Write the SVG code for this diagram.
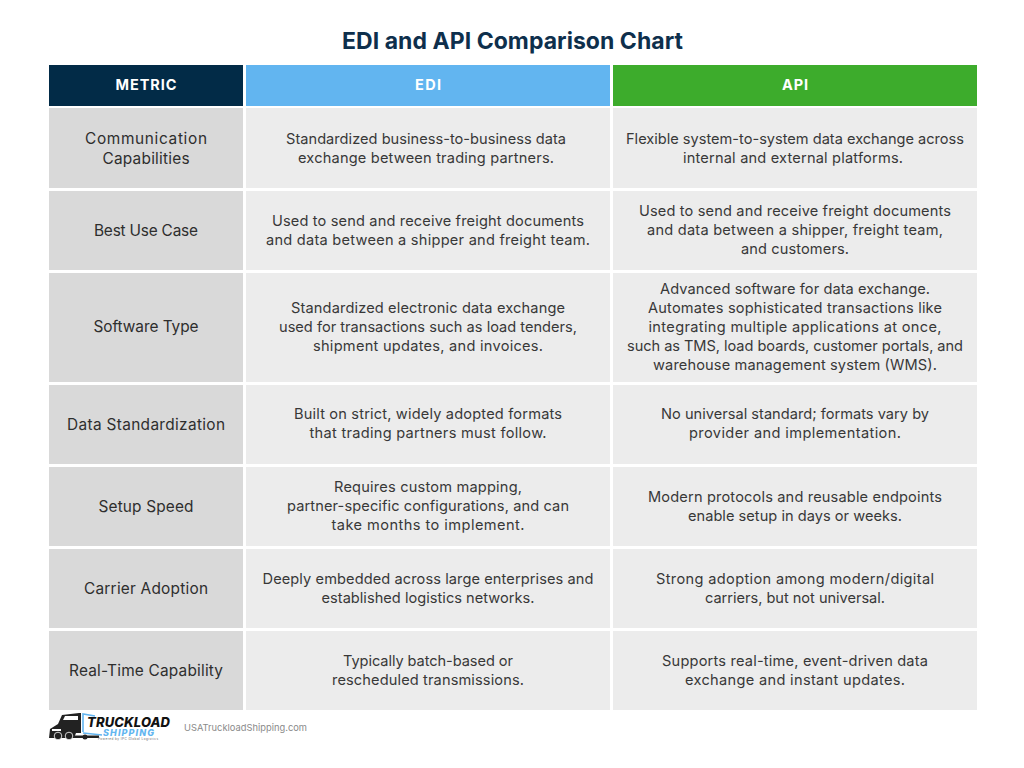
<svg xmlns="http://www.w3.org/2000/svg" width="1024" height="768" viewBox="0 0 1024 768">
<style>
text{font-family:Inter,"Liberation Sans",sans-serif;text-anchor:middle;fill:#383838}
.t{font-size:14.6px}
.k{font-size:15.4px;fill:#2e2e2e}
.m{fill:#d9d9d9}.c{fill:#ececec}
.h{font-size:14.5px;font-weight:700;fill:#fff}
</style>
<rect width="1024" height="768" fill="#fff"/>
<text x="512.500" y="49" font-size="23" font-weight="700" textLength="341" style="fill:#0e2f4c">EDI and API Comparison Chart</text>
<g id="head-metric"><rect x="49" y="65" width="194" height="41" fill="#022b47"/><text class="h" x="146" y="90" textLength="61">METRIC</text></g>
<g id="head-edi"><rect x="246" y="65" width="364" height="41" fill="#62b5f0"/><text class="h" x="428" y="90" textLength="26">EDI</text></g>
<g id="head-api"><rect x="613" y="65" width="364" height="41" fill="#3dac2c"/><text class="h" x="795" y="90" textLength="26">API</text></g>

<g id="row1"><rect class="m" x="49" y="108" width="194" height="80"/><rect class="c" x="246" y="108" width="364" height="80"/><rect class="c" x="613" y="108" width="364" height="80"/>
<text class="k" x="146" y="144" textLength="122">Communication</text><text class="k" x="146" y="163.500" textLength="87">Capabilities</text>
<text class="t" x="426" y="144" textLength="280">Standardized business-to-business data</text><text class="t" x="426" y="163" textLength="256">exchange between trading partners.</text>
<text class="t" x="795" y="144" textLength="338">Flexible system-to-system data exchange across</text><text class="t" x="793" y="163" textLength="220">internal and external platforms.</text></g>

<g id="row2"><rect class="m" x="49" y="191" width="194" height="79"/><rect class="c" x="246" y="191" width="364" height="79"/><rect class="c" x="613" y="191" width="364" height="79"/>
<text class="k" x="146" y="236" textLength="104">Best Use Case</text>
<text class="t" x="428" y="226" textLength="312">Used to send and receive freight documents</text><text class="t" x="428" y="245" textLength="324">and data between a shipper and freight team.</text>
<text class="t" x="795" y="216" textLength="312">Used to send and receive freight documents</text><text class="t" x="795" y="235" textLength="296">and data between a shipper, freight team,</text><text class="t" x="795" y="254" textLength="108">and customers.</text></g>

<g id="row3"><rect class="m" x="49" y="273" width="194" height="109"/><rect class="c" x="246" y="273" width="364" height="109"/><rect class="c" x="613" y="273" width="364" height="109"/>
<text class="k" x="146" y="332" textLength="105">Software Type</text>
<text class="t" x="428" y="313" textLength="274">Standardized electronic data exchange</text><text class="t" x="428" y="332" textLength="298">used for transactions such as load tenders,</text><text class="t" x="428" y="351" textLength="230">shipment updates, and invoices.</text>
<text class="t" x="795" y="294" textLength="270">Advanced software for data exchange.</text><text class="t" x="795" y="313" textLength="294">Automates sophisticated transactions like</text><text class="t" x="795" y="332" textLength="293">integrating multiple applications at once,</text><text class="t" x="795" y="351" textLength="336">such as TMS, load boards, customer portals, and</text><text class="t" x="795" y="370" textLength="284">warehouse management system (WMS).</text></g>

<g id="row4"><rect class="m" x="49" y="385" width="194" height="79"/><rect class="c" x="246" y="385" width="364" height="79"/><rect class="c" x="613" y="385" width="364" height="79"/>
<text class="k" x="146" y="429.500" textLength="158">Data Standardization</text>
<text class="t" x="428" y="419" textLength="268">Built on strict, widely adopted formats</text><text class="t" x="428" y="438" textLength="237">that trading partners must follow.</text>
<text class="t" x="795" y="419" textLength="268">No universal standard; formats vary by</text><text class="t" x="795" y="438" textLength="212">provider and implementation.</text></g>

<g id="row5"><rect class="m" x="49" y="467" width="194" height="79"/><rect class="c" x="246" y="467" width="364" height="79"/><rect class="c" x="613" y="467" width="364" height="79"/>
<text class="k" x="146" y="511.500" textLength="95">Setup Speed</text>
<text class="t" x="428" y="492" textLength="188">Requires custom mapping,</text><text class="t" x="428" y="511" textLength="282">partner-specific configurations, and can</text><text class="t" x="428" y="530" textLength="193">take months to implement.</text>
<text class="t" x="795" y="502" textLength="294">Modern protocols and reusable endpoints</text><text class="t" x="795" y="521" textLength="214">enable setup in days or weeks.</text></g>

<g id="row6"><rect class="m" x="49" y="549" width="194" height="79"/><rect class="c" x="246" y="549" width="364" height="79"/><rect class="c" x="613" y="549" width="364" height="79"/>
<text class="k" x="146" y="594" textLength="124">Carrier Adoption</text>
<text class="t" x="428" y="584" textLength="331">Deeply embedded across large enterprises and</text><text class="t" x="428" y="603" textLength="213">established logistics networks.</text>
<text class="t" x="795" y="584" textLength="278">Strong adoption among modern/digital</text><text class="t" x="795" y="603" textLength="180">carriers, but not universal.</text></g>

<g id="row7"><rect class="m" x="49" y="631" width="194" height="79"/><rect class="c" x="246" y="631" width="364" height="79"/><rect class="c" x="613" y="631" width="364" height="79"/>
<text class="k" x="146" y="676" textLength="154">Real-Time Capability</text>
<text class="t" x="428" y="666" textLength="170">Typically batch-based or</text><text class="t" x="428" y="685" textLength="192">rescheduled transmissions.</text>
<text class="t" x="795" y="666" textLength="266">Supports real-time, event-driven data</text><text class="t" x="795" y="685" textLength="220">exchange and instant updates.</text></g>

<g id="logo">
<path d="M83 732V714L95 716M83 733L102 735" fill="none" stroke="#62b5f0" stroke-width="1.6"/>
<path d="M58 724L62 715L79 713H81V733H76L74 738H49L50 729Z" fill="#222"/>
<path d="M65 716H78V720H63ZM52 729H61V731H52Z" fill="#fff"/>
<path d="M74 735.500H99V738H74Z" fill="#222"/>
<circle cx="58" cy="736" r="3.800" fill="#222" stroke="#fff" stroke-width=".8"/><circle cx="69" cy="736" r="3.800" fill="#222" stroke="#fff" stroke-width=".8"/><circle cx="85" cy="737" r="2.500" fill="#222"/>
<text x="128.500" y="726.500" font-size="13" font-weight="800" font-style="italic" textLength="83" style="fill:#111">TRUCKLOAD</text>
<text x="128.500" y="735.500" font-size="9" font-weight="800" font-style="italic" textLength="51" style="fill:#62b5f0">SHIPPING</text>
<text x="128" y="739.800" font-size="3" textLength="60" style="fill:#666">Powered by IPC Global Logistics</text>
</g>
<text x="245.500" y="731" font-size="9.300" textLength="123" style="fill:#8a8a8a">USATruckloadShipping.com</text>
</svg>
